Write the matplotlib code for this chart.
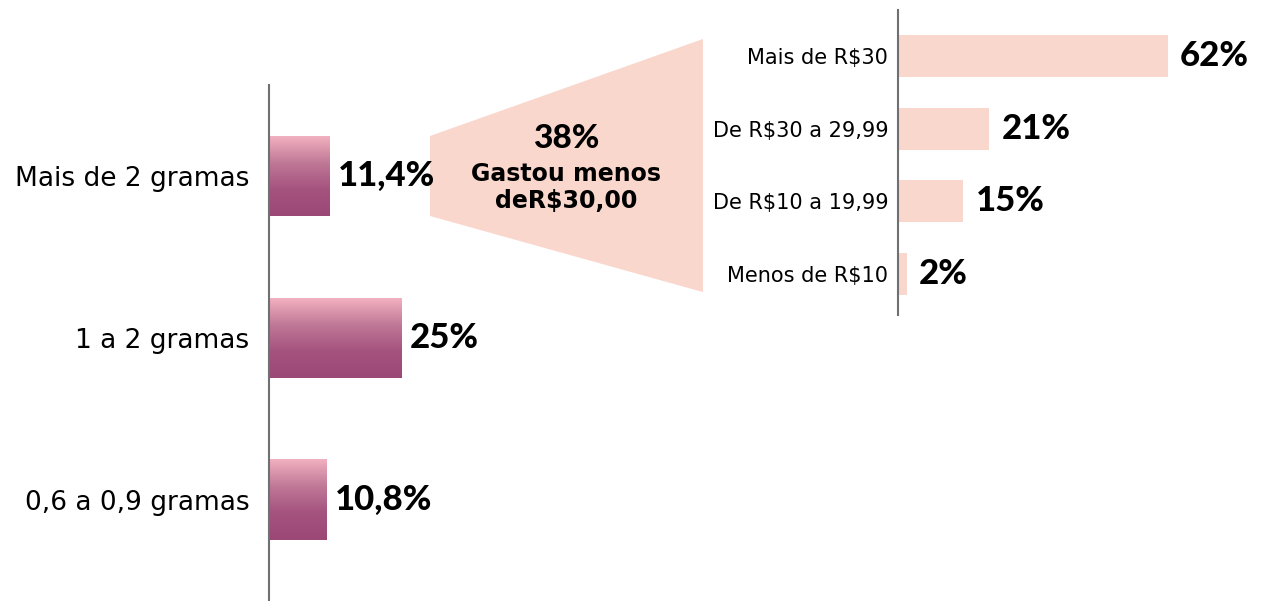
import numpy as np
import matplotlib
matplotlib.use("Agg")
import matplotlib.pyplot as plt
from matplotlib.colors import LinearSegmentedColormap
from matplotlib.patches import Polygon

# --- data ---
gram_labels = ["Mais de 2 gramas", "1 a 2 gramas", "0,6 a 0,9 gramas"]
gram_values = [11.4, 25.0, 10.8]
gram_texts = ["11,4%", "25%", "10,8%"]

spend_labels = ["Mais de R$30", "De R$30 a 29,99", "De R$10 a 19,99", "Menos de R$10"]
spend_values = [62, 21, 15, 2]
spend_texts = ["62%", "21%", "15%", "2%"]

funnel_pct = "38%"
funnel_lines = ["Gastou menos", "deR$30,00"]

W, H = 1263, 601
NUMFONT = "Lato"
LABFONT = "DejaVu Sans"
SPINE = "#6e7073"
PEACH = "#f9d7cd"
grad = LinearSegmentedColormap.from_list("g", ["#f2b1c0", "#c07997", "#a4527e", "#9c4877"])

fig = plt.figure(figsize=(W / 100, H / 100), dpi=100)


def px_axes(left, top, right, bottom):
    return fig.add_axes([left / W, 1 - bottom / H, (right - left) / W, (bottom - top) / H])


# left chart (grams) with gradient bars
ax1 = px_axes(269, 85, 869, 601)
step1 = 162.0
bh1 = 80 / step1
gimg = np.linspace(0, 1, 256).reshape(-1, 1)
for i, v in enumerate(gram_values):
    ax1.imshow(gimg, cmap=grad, aspect="auto", origin="upper",
               extent=[0, v, i + bh1 / 2, i - bh1 / 2], zorder=2)
    ax1.annotate(gram_texts[i], (v, i), xytext=(6, 0), textcoords="offset points",
                 va="center", ha="left", fontsize=25, fontweight="black",
                 family=NUMFONT, color="black")
ax1.set_xlim(0, 600 / 5.3)
ax1.set_ylim((601 - 176) / step1, -(176 - 85) / step1)
ax1.set_yticks(range(len(gram_labels)))
ax1.set_yticklabels(gram_labels, fontsize=19, family=LABFONT)
ax1.tick_params(axis="y", length=0, pad=14)
ax1.set_xticks([])
for s in ["top", "right", "bottom"]:
    ax1.spines[s].set_visible(False)
ax1.spines["left"].set_color(SPINE)
ax1.spines["left"].set_linewidth(1.5)
ax1.patch.set_alpha(0)

# right chart (spending)
ax2 = px_axes(898, 10, 1258, 315)
step2 = 72.7
bh2 = 42 / step2
ax2.barh(range(len(spend_values)), spend_values, height=bh2, color=PEACH, zorder=2)
ax2.set_xlim(0, 360 / 4.35)
ax2.set_ylim((315 - 56) / step2, -(56 - 10) / step2)
for i, v in enumerate(spend_values):
    ax2.annotate(spend_texts[i], (v, i), xytext=(9, 0), textcoords="offset points",
                 va="center", ha="left", fontsize=25, fontweight="black",
                 family=NUMFONT, color="black")
ax2.set_yticks(range(len(spend_labels)))
ax2.set_yticklabels(spend_labels, fontsize=15, family=LABFONT)
ax2.tick_params(axis="y", length=0, pad=7)
ax2.set_xticks([])
for s in ["top", "right", "bottom"]:
    ax2.spines[s].set_visible(False)
ax2.spines["left"].set_color(SPINE)
ax2.spines["left"].set_linewidth(1.5)
ax2.patch.set_alpha(0)

# overlay in pixel coordinates for the funnel connector
ov = fig.add_axes([0, 0, 1, 1], zorder=-1)
ov.set_xlim(0, W)
ov.set_ylim(0, H)
ov.axis("off")

fig.canvas.draw()
b0_top = ax1.transData.transform((0, -bh1 / 2))[1]
b0_bot = ax1.transData.transform((0, bh1 / 2))[1]
r_top = ax2.transData.transform((0, -bh2 / 2))[1] - 4
r_bot = ax2.transData.transform((0, len(spend_values) - 1 + bh2 / 2))[1] + 3
funnel = Polygon([(430, b0_top), (703, r_top), (703, r_bot), (430, b0_bot)],
                 closed=True, facecolor=PEACH, edgecolor="none")
ov.add_patch(funnel)
ov.text(566, H - 139, funnel_pct, ha="center", va="center", fontsize=24,
        fontweight="black", family=NUMFONT)
ov.text(566, H - 174, funnel_lines[0], ha="center", va="center", fontsize=17,
        fontweight="bold", family=LABFONT)
ov.text(566, H - 201, funnel_lines[1], ha="center", va="center", fontsize=17,
        fontweight="bold", family=LABFONT)

fig.savefig("out.png", dpi=100)
